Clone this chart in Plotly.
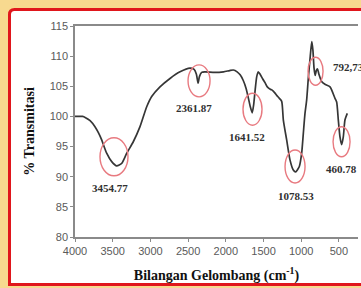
import plotly.graph_objects as go

# ---- data ----
wavenumber = [4000, 3900, 3860, 3800, 3735, 3690, 3646, 3580, 3513, 3447, 3381, 3314, 3227, 3138,
              3049, 2983, 2873, 2740, 2607, 2475, 2420, 2390, 2368, 2350, 2320, 2280, 2150, 2030,
              1950, 1900, 1850, 1810, 1770, 1730, 1700, 1675, 1650, 1630, 1610, 1590, 1570, 1545,
              1510, 1480, 1450, 1410, 1390, 1350, 1325, 1290, 1259, 1237, 1193, 1149, 1105, 1075,
              1025, 994, 972, 950, 928, 905, 880, 860, 845, 830, 815, 800, 785, 765, 729, 680,
              618, 552, 530, 508, 486, 464, 442, 420, 389]
transmittance = [100.0, 100.0, 99.8, 99.3, 98.3, 97.3, 96.1, 93.9, 92.5, 91.8, 92.2, 93.9, 95.8, 98.3,
                 101.6, 103.3, 104.9, 106.3, 107.4, 108.0, 107.8, 107.0, 105.5, 106.6, 107.3, 107.4, 107.3, 107.4,
                 107.6, 107.7, 107.4, 106.9, 106.0, 104.6, 103.0, 101.6, 100.6, 102.0, 104.5, 106.6, 107.4, 107.0,
                 106.2, 105.6, 104.9, 104.5, 104.4, 103.9, 103.5, 103.0, 102.5, 99.4, 96.1, 92.8, 91.1, 90.8,
                 91.7, 93.9, 97.2, 100.5, 102.7, 106.5, 110.0, 112.4, 111.0, 108.0, 106.8, 107.6, 107.9, 107.0, 105.8, 105.3,
                 104.9, 103.0, 102.4, 99.4, 96.6, 95.3, 96.6, 99.4, 100.5]

peak_labels = ["3454.77", "2361.87", "1641.52", "1078.53", "792,73", "460.78"]
label_wn = [3536, 2428, 1725, 1069, 605, 472]
label_t = [88.1, 101.4, 96.6, 86.8, 108.2, 91.3]
circle_wn = [3483, 2355, 1646, 1082, 810, 465]
circle_t = [93.3, 105.9, 101.2, 91.7, 107.5, 95.8]
circle_w = [28, 22, 19, 20, 15, 17]
circle_h = [38, 32, 32, 33, 28, 30]

x_ticks = [4000, 3500, 3000, 2500, 2000, 1500, 1000, 500]
y_ticks = [80, 85, 90, 95, 100, 105, 110, 115]

# ---- layout geometry ----
W, H = 361, 288
L, R, T, B = 75, 358, 26, 237


def px2paper(px, py):
    return (px - L) / (R - L), (B - py) / (B - T)


fig = go.Figure()
fig.add_trace(go.Scatter(x=wavenumber, y=transmittance, mode="lines",
                         line=dict(color="#363636", width=1.7, shape="spline", smoothing=0.6),
                         hoverinfo="skip", showlegend=False))

shapes = []
# red frame with white inside, rounded top-left corner
x0, y0 = px2paper(9.5, 9.5)
x1, y1 = px2paper(380, 284.5)
rx = 5 / (R - L)
ry = 5 / (B - T)
path = (f"M {x0},{y1} L {x0},{y0 - ry} Q {x0},{y0} {x0 + rx},{y0} "
        f"L {x1},{y0} L {x1},{y1} Z")
shapes.append(dict(type="path", xref="paper", yref="paper", path=path,
                   fillcolor="white", line=dict(color="#e0161c", width=3), layer="below"))

for wn, t, w, h in zip(circle_wn, circle_t, circle_w, circle_h):
    shapes.append(dict(type="circle", xref="x", yref="y", xsizemode="pixel", ysizemode="pixel",
                       xanchor=wn, yanchor=t, x0=-w / 2, x1=w / 2, y0=-h / 2, y1=h / 2,
                       line=dict(color="#e87a80", width=1.4)))

annotations = []
for txt, wn, t in zip(peak_labels, label_wn, label_t):
    annotations.append(dict(x=wn, y=t, xref="x", yref="y", text=txt, showarrow=False,
                            xanchor="left" if txt.startswith("792") else "center",
                            font=dict(family="Liberation Serif", size=11, color="#303030", weight="bold")))

fig.update_layout(
    template="none",
    width=W, height=H,
    margin=dict(l=L, r=W - R, t=T, b=H - B, autoexpand=False),
    paper_bgcolor="#f7d98f",
    plot_bgcolor="white",
    shapes=shapes,
    annotations=annotations,
    xaxis=dict(range=[4000, 247], tickvals=x_ticks, ticktext=[str(v) for v in x_ticks],
               automargin=False,
               showline=True, mirror=True, linecolor="#8a8a8a", linewidth=1.5,
               ticks="outside", ticklen=3, tickcolor="#8a8a8a", tickwidth=1,
               showgrid=False, zeroline=False,
               tickfont=dict(family="Liberation Sans", size=11, color="#5a5a5a"),
               title=dict(text="Bilangan Gelombang (cm<sup>-1</sup>)", standoff=14,
                          font=dict(family="Liberation Serif", size=14, color="#111111", weight="bold"))),
    yaxis=dict(range=[80, 115], tickvals=y_ticks, ticktext=[str(v) for v in y_ticks],
               automargin=False,
               showline=True, mirror=False, linecolor="#8a8a8a", linewidth=1.5,
               ticks="outside", ticklen=3, tickcolor="#8a8a8a", tickwidth=1,
               showgrid=False, zeroline=False,
               tickfont=dict(family="Liberation Sans", size=11, color="#5a5a5a"),
               title=dict(text="% Transmitasi", standoff=12,
                          font=dict(family="Liberation Serif", size=14, color="#111111", weight="bold"))),
)

fig.write_html("out.html", config={"displayModeBar": False},
               post_script="document.body.style.margin='0';document.body.style.overflow='hidden';")
